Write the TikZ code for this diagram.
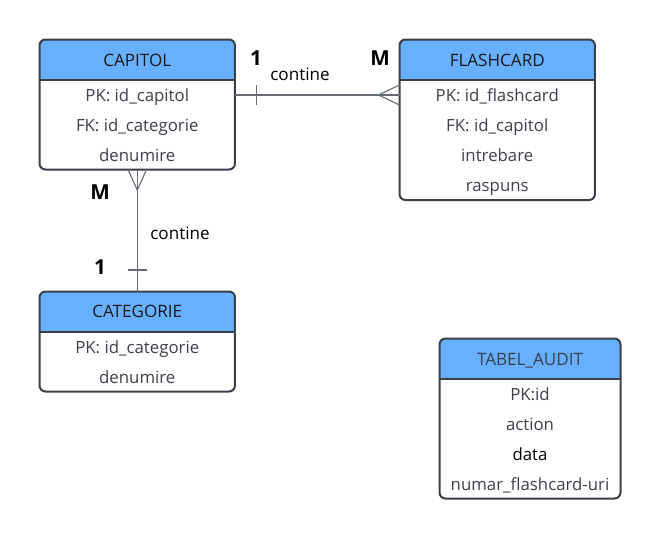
\documentclass[tikz,border=0pt]{standalone}
\usepackage{fontspec}
\setmainfont{Open Sans}
\usetikzlibrary{calc}
\definecolor{headblue}{HTML}{66B0FF}
\definecolor{bordercol}{HTML}{3A3F47}
\definecolor{rowcol}{HTML}{3B404A}
\definecolor{conncol}{HTML}{666C77}
\tikzset{
  tbl/.style={draw=bordercol, line width=1.5pt, rounded corners=4.5pt, inner sep=0pt, outer sep=0pt, anchor=north west},
  divider/.style={draw=bordercol, line width=1.5pt},
  headtxt/.style={inner sep=0pt, text height=0.73em, text depth=0pt, yshift=-1.2pt, text=black!90, font=\fontsize{12.8pt}{15pt}\selectfont},
  rowtxt/.style={inner sep=0pt, text height=0.73em, text depth=0pt, yshift=-1.2pt, text=rowcol, font=\fontsize{12.6pt}{15pt}\selectfont},
  conn/.style={draw=conncol, line width=0.85pt},
  card/.style={inner sep=0pt, text height=0.73em, text depth=0pt, text=black, font=\fontsize{15.5pt}{18pt}\bfseries},
  rellabel/.style={inner sep=0pt, text height=0.73em, text depth=0pt, yshift=-0.8pt, text=black, font=\fontsize{12.8pt}{15pt}\selectfont},
}
\begin{document}
\begin{tikzpicture}[x=0.75pt, y=-0.75pt]
\useasboundingbox (0,0) rectangle (660,539);

% ---------- CAPITOL ----------
\begin{scope}
\clip[rounded corners=4.5pt] (39.5,39.5) rectangle (235,169.5);
\fill[headblue] (39.5,39.5) rectangle (235,80);
\end{scope}
\node[tbl, minimum width=146.6pt, minimum height=97.5pt] (capitol) at (39.5,39.5) {};
\draw[divider] (capitol.west |- 0,80) -- (capitol.east |- 0,80);
\node[headtxt] (capitolh) at (137.25,60) {CAPITOL};
\node[rowtxt] (capitol1) at (137.25,95.5) {PK: id\_capitol};
\node[rowtxt] (capitol2) at (137.25,125.5) {FK: id\_categorie};
\node[rowtxt] (capitol3) at (137.25,155.5) {denumire};

% ---------- FLASHCARD ----------
\begin{scope}
\clip[rounded corners=4.5pt] (399.5,39.5) rectangle (595,200);
\fill[headblue] (399.5,39.5) rectangle (595,80);
\end{scope}
\node[tbl, minimum width=146.6pt, minimum height=120.4pt] (flashcard) at (399.5,39.5) {};
\draw[divider] (flashcard.west |- 0,80) -- (flashcard.east |- 0,80);
\node[headtxt] (flashcardh) at (497.25,60) {FLASHCARD};
\node[rowtxt] (flashcard1) at (497.25,95.5) {PK: id\_flashcard};
\node[rowtxt] (flashcard2) at (497.25,125.5) {FK: id\_capitol};
\node[rowtxt] (flashcard3) at (497.25,155.5) {intrebare};
\node[rowtxt] (flashcard4) at (497.25,185.5) {raspuns};

% ---------- CATEGORIE ----------
\begin{scope}
\clip[rounded corners=4.5pt] (39.5,291.5) rectangle (235,391.5);
\fill[headblue] (39.5,291.5) rectangle (235,331.5);
\end{scope}
\node[tbl, minimum width=146.6pt, minimum height=75pt] (categorie) at (39.5,291.5) {};
\draw[divider] (categorie.west |- 0,331.5) -- (categorie.east |- 0,331.5);
\node[headtxt] (categorieh) at (137.25,311.5) {CATEGORIE};
\node[rowtxt] (categorie1) at (137.25,347) {PK: id\_categorie};
\node[rowtxt] (categorie2) at (137.25,377) {denumire};

% ---------- TABEL_AUDIT ----------
\begin{scope}
\clip[rounded corners=4.5pt] (439.5,338.5) rectangle (620.5,498.5);
\fill[headblue] (439.5,338.5) rectangle (620.5,378.5);
\end{scope}
\node[tbl, minimum width=135.75pt, minimum height=120pt] (audit) at (439.5,338.5) {};
\draw[divider] (audit.west |- 0,378.5) -- (audit.east |- 0,378.5);
\node[headtxt, text=rowcol] (audith) at (530,359) {TABEL\_AUDIT};
\node[rowtxt] (audit1) at (530,394.5) {PK:id};
\node[rowtxt] (audit2) at (530,424.5) {action};
\node[rowtxt, text=black] (audit3) at (530,454.5) {data};
\node[rowtxt] (audit4) at (530,484.5) {numar\_flashcard-uri};

% ---------- CAPITOL -- FLASHCARD ----------
\coordinate (r1a) at (capitol.east |- 0,95);
\coordinate (r1b) at (flashcard.west |- 0,95);
\draw[conn] (r1a) -- (r1b);
\draw[conn] ($(r1a)+(21.5,-10)$) -- ($(r1a)+(21.5,10)$);
\draw[conn] ($(r1b)+(-21,0)$) -- ($(r1b)+(0,-10)$);
\draw[conn] ($(r1b)+(-21,0)$) -- ($(r1b)+(0,10)$);
\node[card] (one1) at (256,61) {1};
\node[card] (many1) at (380,61) {M};
\node[rellabel] (rel1) at (300,75) {contine};

% ---------- CAPITOL -- CATEGORIE ----------
\coordinate (r2a) at (capitol.south -| 137.3,0);
\coordinate (r2b) at (categorie.north -| 137.3,0);
\draw[conn] (r2a) -- (r2b);
\draw[conn] ($(r2a)+(0,20.5)$) -- ($(r2a)+(-9.3,0)$);
\draw[conn] ($(r2a)+(0,20.5)$) -- ($(r2a)+(9.3,0)$);
\draw[conn] ($(r2b)+(-9.5,-21.5)$) -- ($(r2b)+(9.5,-21.5)$);
\node[card] (many2) at (100,195) {M};
\node[rellabel] (rel2) at (180,234) {contine};
\node[card] (one2) at (100,270) {1};
\end{tikzpicture}
\end{document}
